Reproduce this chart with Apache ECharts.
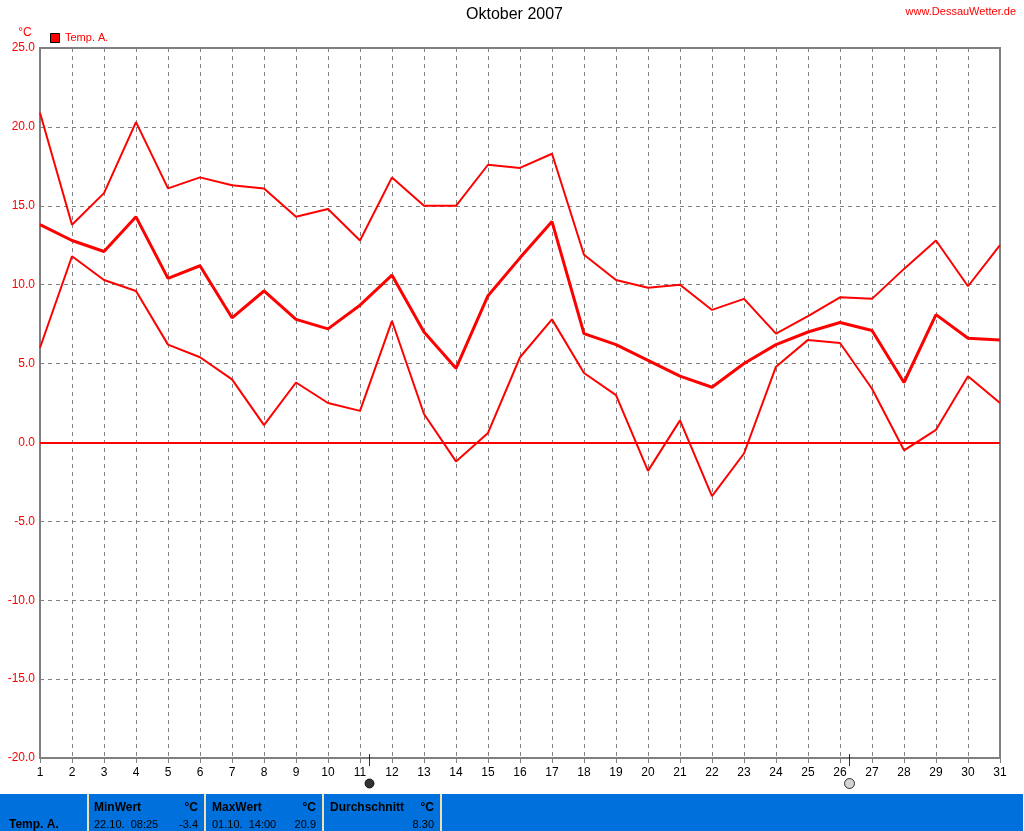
<!DOCTYPE html>
<html><head><meta charset="utf-8">
<style>html,body{margin:0;padding:0;background:#fff}#c{width:1024px;height:831px}</style>
<script src="https://cdn.jsdelivr.net/npm/echarts@6/dist/echarts.min.js"></script>
</head><body><div id="c"></div>
<script>
const days=[1,2,3,4,5,6,7,8,9,10,11,12,13,14,15,16,17,18,19,20,21,22,23,24,25,26,27,28,29,30,31];
const tempMax=[20.9,13.8,15.8,20.3,16.1,16.8,16.3,16.1,14.3,14.8,12.8,16.8,15.0,15.0,17.6,17.4,18.3,11.9,10.3,9.8,10.0,8.4,9.1,6.9,8.0,9.2,9.1,11.0,12.8,9.9,12.5];
const tempAvg=[13.8,12.8,12.1,14.3,10.4,11.2,7.9,9.6,7.8,7.2,8.7,10.6,7.0,4.7,9.3,11.7,14.0,6.9,6.2,5.2,4.2,3.5,5.0,6.2,7.0,7.6,7.1,3.8,8.1,6.6,6.5];
const tempMin=[6.0,11.8,10.3,9.6,6.2,5.4,4.0,1.1,3.8,2.5,2.0,7.7,1.8,-1.2,0.6,5.4,7.8,4.4,3.0,-1.8,1.4,-3.4,-0.7,4.8,6.5,6.3,3.4,-0.5,0.8,4.2,2.5];
const newMoonDay=[11.297];
const fullMoonDay=[26.297];
const title='Oktober 2007', site='www.DessauWetter.de', unit='°C', seriesName='Temp. A.';
const minLabel='MinWert', minWhen='22.10.  08:25', minVal='-3.4';
const maxLabel='MaxWert', maxWhen='01.10.  14:00', maxVal='20.9';
const avgLabel='Durchschnitt', avgVal='8.30';

const font='"Liberation Sans",Arial,sans-serif';
const pair=a=>a.map((v,i)=>[days[i],v]);
const line=(name,d,w)=>({name,type:'line',data:pair(d),symbol:'none',smooth:false,
  lineStyle:{color:'#ff0000',width:w},itemStyle:{color:'#ff0000'},z:3,animation:false});
const t=(x,y,text,o={})=>({type:'text',x,y,z:20,silent:true,style:Object.assign({text,fill:'#000',font:'11px '+font,textVerticalAlign:'middle'},o)});
const r=(x,y,w,h,fill,extra={})=>({type:'rect',x,y,shape:{width:w,height:h},z:10,silent:true,style:Object.assign({fill},extra)});
const bold='bold 12px '+font;
const blue='#0070dc', cream='#f0e0b0';

const chart=echarts.init(document.getElementById('c'),null,{renderer:'canvas'});
chart.setOption({
  animation:false,
  backgroundColor:'#fff',
  grid:{left:40,top:48,width:960,height:710,show:true,borderColor:'#808080',borderWidth:2,backgroundColor:'transparent'},
  xAxis:{type:'value',min:1,max:31,interval:1,
    axisLine:{show:true,onZero:false,lineStyle:{color:'#808080',width:2}},
    axisTick:{show:true,length:5,lineStyle:{color:'#808080',width:1}},
    axisLabel:{color:'#000',fontFamily:'Liberation Sans',fontSize:12,margin:9,showMinLabel:true,showMaxLabel:true,hideOverlap:false},
    splitLine:{show:true,lineStyle:{color:'#808080',type:[4,4],width:1}}},
  yAxis:{type:'value',min:-20,max:25,interval:5,
    axisLine:{show:true,onZero:false,lineStyle:{color:'#808080',width:2}},
    axisTick:{show:false},
    axisLabel:{color:'#ff0000',fontFamily:'Liberation Sans',fontSize:12,margin:5,padding:[2,0,0,0],formatter:v=>v.toFixed(1),showMinLabel:true,showMaxLabel:true},
    splitLine:{show:true,lineStyle:{color:'#808080',type:[4,4],width:1}}},
  series:[
    Object.assign(line('max',tempMax,2),{markLine:{silent:true,symbol:'none',label:{show:false},animation:false,
      lineStyle:{color:'#ff0000',width:2,type:'solid'},data:[{yAxis:0}]}}),
    line('avg',tempAvg,3),
    line('min',tempMin,2),
    {type:'scatter',name:'moonTick',clip:false,silent:true,animation:false,symbol:'rect',symbolSize:[1,12],symbolOffset:[0,2],
      itemStyle:{color:'#000'},data:[...newMoonDay,...fullMoonDay].map(d=>[d,-20]),z:6},
    {type:'scatter',name:'newMoon',clip:false,silent:true,animation:false,symbol:'circle',symbolSize:9,symbolOffset:[0,25.5],
      itemStyle:{color:'#000',borderColor:'#000',borderWidth:1},data:newMoonDay.map(d=>[d,-20]),z:6},
    {type:'scatter',name:'fullMoon',clip:false,silent:true,animation:false,symbol:'circle',symbolSize:10,symbolOffset:[0,25.5],
      itemStyle:{color:'#c8c8c8',borderColor:'#000',borderWidth:1},data:fullMoonDay.map(d=>[d,-20]),z:6}
  ],
  graphic:[
    t(514.5,15,title,{font:'16px '+font,textAlign:'center'}),
    t(1016,12,site,{font:'11px '+font,fill:'#ff0000',textAlign:'right'}),
    t(25,33,unit,{font:'12px '+font,fill:'#ff0000',textAlign:'center'}),
    r(50.5,33.5,9,9,'#ff0000',{stroke:'#000',lineWidth:1}),
    t(65,38,seriesName,{font:'11px '+font,fill:'#ff0000'}),
    r(0,794,1024,37,blue),
    r(1023,794,1,37,'#fff'),
    r(87,794,2,37,cream),r(204,794,2,37,cream),r(322,794,2,37,cream),r(440,794,2,37,cream),
    t(9,825,seriesName,{font:bold}),
    t(94,808,minLabel,{font:bold}),t(198,808,'°C',{font:bold,textAlign:'right'}),
    t(94,825,minWhen),t(198,825,minVal,{textAlign:'right'}),
    t(212,808,maxLabel,{font:bold}),t(316,808,'°C',{font:bold,textAlign:'right'}),
    t(212,825,maxWhen),t(316,825,maxVal,{textAlign:'right'}),
    t(330,808,avgLabel,{font:bold}),t(434,808,'°C',{font:bold,textAlign:'right'}),
    t(434,825,avgVal,{textAlign:'right'})
  ]
});
</script></body></html>
